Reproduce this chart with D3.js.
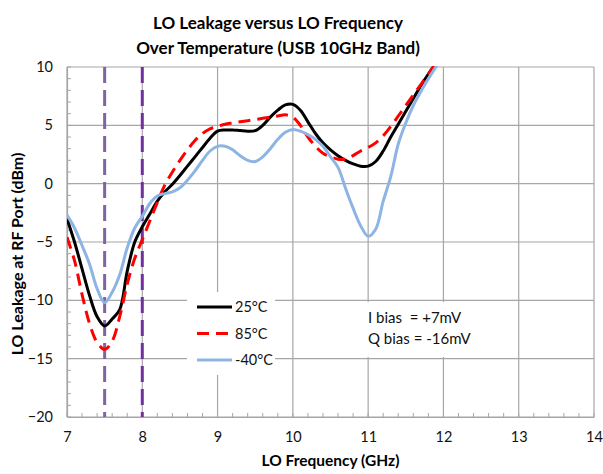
<!DOCTYPE html>
<html>
<head>
<meta charset="utf-8">
<script src="https://cdn.jsdelivr.net/npm/d3@7"></script>
<style>
  html, body { margin: 0; padding: 0; background: #fff; }
  svg { display: block; font-family: Lato, "Open Sans", sans-serif; }
</style>
</head>
<body>
<svg id="chart" width="603" height="474"></svg>
<script>
// LO frequency sweep (GHz)
const freq = [7.0,7.1,7.2,7.3,7.4,7.5,7.6,7.7,7.8,7.9,
              8.0,8.1,8.2,8.3,8.4,8.5,8.6,8.7,8.8,8.9,
              9.0,9.1,9.2,9.3,9.4,9.5,9.6,9.7,9.8,9.9,
              10.0,10.1,10.2,10.3,10.4,10.5,10.6,10.7,10.8,10.9,
              11.0,11.1,11.2,11.3,11.4,11.5,11.6,11.7,11.8,11.9,12.0];

// LO leakage at RF port (dBm) per temperature
const leak25 = [-3.0,-5.0,-7.3,-9.6,-11.4,-12.2,-11.6,-10.8,-7.5,-5.0,
                -3.7,-2.6,-1.5,-0.7,-0.05,0.7,1.5,2.3,3.1,3.9,
                4.5,4.6,4.6,4.55,4.5,4.55,5.0,5.7,6.3,6.75,
                6.8,6.3,5.3,4.3,3.5,2.9,2.4,2.0,1.7,1.5,
                1.5,1.9,2.8,4.0,5.1,6.2,7.3,8.4,9.4,10.3,11.2];
const leak85 = [-4.6,-6.6,-9.5,-12.0,-13.6,-14.2,-13.5,-11.4,-8.6,-6.4,
                -4.8,-3.2,-1.6,-0.1,1.0,2.0,2.9,3.7,4.3,4.7,
                4.9,5.1,5.2,5.3,5.4,5.5,5.6,5.7,5.8,5.9,
                5.7,5.0,4.0,3.2,2.6,2.3,2.1,2.1,2.4,2.8,
                3.1,3.5,4.1,4.9,5.8,6.7,7.6,8.5,9.4,10.3,11.2];
const leakM40 = [-2.7,-3.8,-5.3,-6.9,-9.0,-10.2,-9.3,-7.8,-5.5,-3.8,
                 -2.8,-1.7,-1.05,-0.85,-0.7,-0.35,0.3,1.1,2.0,2.8,
                 3.2,3.2,2.9,2.4,2.0,1.9,2.3,3.0,3.8,4.4,
                 4.65,4.5,4.2,3.8,3.2,2.3,1.4,-0.4,-2.1,-3.6,
                 -4.5,-3.9,-1.5,0.6,3.4,5.2,6.7,7.9,9.0,10.0,11.0];

const seriesNames = ["25°C", "85°C", "-40°C"];
const seriesValues = [leak25, leak85, leakM40];

// Band edge markers (GHz)
const markerFreqs = [7.5, 8.0];

// Axis ticks
const xTicks = [7, 8, 9, 10, 11, 12, 13, 14];
const yTicks = [10, 5, 0, -5, -10, -15, -20];

const titleLines = ["LO Leakage versus LO Frequency", "Over Temperature (USB 10GHz Band)"];
const biasLines = ["I bias  = +7mV", "Q bias = -16mV"];

// ---- layout ----
const svg = d3.select("#chart");
const plot = { left: 67, top: 67, right: 594, bottom: 417 };
const x = d3.scaleLinear().domain([7, 14]).range([plot.left, plot.right]);
const y = d3.scaleLinear().domain([-20, 10]).range([plot.bottom, plot.top]);

const gridColor = "#a6a6a6";
const seriesStyle = [
  { color: "#000000", dash: null },
  { color: "#ff0000", dash: "12,7" },
  { color: "#8db4e2", dash: null }
];
const markerColors = ["#8064a2", "#7030a0"];

// title
svg.append("g").selectAll("text").data(titleLines).join("text")
  .attr("x", 278).attr("y", (d, i) => 29 + i * 24.5)
  .attr("text-anchor", "middle")
  .attr("font-size", 17).attr("font-weight", "bold").attr("fill", "#000")
  .text(d => d);

// gridlines
const grid = svg.append("g");
grid.selectAll("line.gx").data(xTicks).join("line")
  .attr("x1", d => x(d)).attr("x2", d => x(d))
  .attr("y1", plot.top).attr("y2", plot.bottom)
  .attr("stroke", gridColor).attr("stroke-width", 1.2);
grid.selectAll("line.gy").data(yTicks).join("line")
  .attr("x1", plot.left).attr("x2", plot.right)
  .attr("y1", d => y(d)).attr("y2", d => y(d))
  .attr("stroke", gridColor).attr("stroke-width", 1.2);

// minor ticks (inside the plot)
const xMinor = d3.range(7, 14.001, 0.2);
const yMinor = d3.range(-20, 10.001, 1);
grid.selectAll("line.mx").data(xMinor).join("line")
  .attr("x1", d => x(d)).attr("x2", d => x(d))
  .attr("y1", plot.bottom).attr("y2", plot.bottom - 4)
  .attr("stroke", gridColor).attr("stroke-width", 1);
grid.selectAll("line.my").data(yMinor).join("line")
  .attr("x1", plot.left).attr("x2", plot.left + 4)
  .attr("y1", d => y(d)).attr("y2", d => y(d))
  .attr("stroke", gridColor).attr("stroke-width", 1);

// axes
const xAxis = svg.append("g").attr("transform", `translate(0,${plot.bottom})`)
  .call(d3.axisBottom(x).tickValues(xTicks).tickFormat(d3.format("d")).tickSize(0).tickPadding(15));
const yAxis = svg.append("g").attr("transform", `translate(${plot.left},0)`)
  .call(d3.axisLeft(y).tickValues(yTicks).tickFormat(d3.format("d")).tickSize(0).tickPadding(14));
[xAxis, yAxis].forEach(a => {
  a.select(".domain").attr("stroke", gridColor).attr("stroke-width", 1.2);
  a.selectAll("text").attr("font-size", 14.5).attr("fill", "#111")
    .attr("font-family", "Lato, 'Open Sans', sans-serif");
});

// axis titles
svg.append("text").attr("x", (plot.left + plot.right) / 2).attr("y", 466)
  .attr("text-anchor", "middle").attr("font-size", 15.5).attr("font-weight", "bold")
  .text("LO Frequency (GHz)");
svg.append("text")
  .attr("transform", "translate(23,254) rotate(-90)")
  .attr("text-anchor", "middle").attr("font-size", 16).attr("font-weight", "bold")
  .text("LO Leakage at RF Port (dBm)");

// clip for data lines
svg.append("defs").append("clipPath").attr("id", "plotClip")
  .append("rect").attr("x", plot.left).attr("y", plot.top - 1)
  .attr("width", plot.right - plot.left).attr("height", plot.bottom - plot.top + 1);

// band markers
svg.append("g").selectAll("line").data(markerFreqs).join("line")
  .attr("x1", d => x(d)).attr("x2", d => x(d))
  .attr("y1", plot.top).attr("y2", plot.bottom)
  .attr("stroke", (d, i) => markerColors[i]).attr("stroke-width", 3)
  .attr("stroke-dasharray", "16,7");

// series
const line = d3.line()
  .x((d, i) => x(freq[i]))
  .y(d => y(d))
  .curve(d3.curveCatmullRom.alpha(0.5));

const lines = svg.append("g").attr("clip-path", "url(#plotClip)");
lines.selectAll("path").data(seriesValues).join("path")
  .attr("d", d => line(d))
  .attr("fill", "none")
  .attr("stroke", (d, i) => seriesStyle[i].color)
  .attr("stroke-width", 3)
  .attr("stroke-dasharray", (d, i) => seriesStyle[i].dash)
  .attr("stroke-linejoin", "round");

// legend
const legend = svg.append("g");
legend.append("rect").attr("x", 187).attr("y", 292).attr("width", 88).attr("height", 83)
  .attr("fill", "#fff");
const rowY = [307, 333.5, 360];
const rows = legend.selectAll("g.row").data(seriesNames).join("g")
  .attr("transform", (d, i) => `translate(0,${rowY[i]})`);
rows.append("line").attr("x1", 197).attr("x2", 232).attr("y1", 0).attr("y2", 0)
  .attr("stroke", (d, i) => seriesStyle[i].color).attr("stroke-width", 3)
  .attr("stroke-dasharray", (d, i) => seriesStyle[i].dash);
rows.append("text").attr("x", 235).attr("y", 5).attr("font-size", 14.5).attr("fill", "#111")
  .text(d => d);

// bias annotation
const note = svg.append("g");
note.append("rect").attr("x", 355).attr("y", 302).attr("width", 125).attr("height", 55)
  .attr("fill", "#fff");
note.selectAll("text").data(biasLines).join("text")
  .attr("x", 368).attr("y", (d, i) => 323 + i * 20.5)
  .attr("font-size", 15).attr("fill", "#111")
  .attr("xml:space", "preserve").style("white-space", "pre")
  .text(d => d);
</script>
</body>
</html>
